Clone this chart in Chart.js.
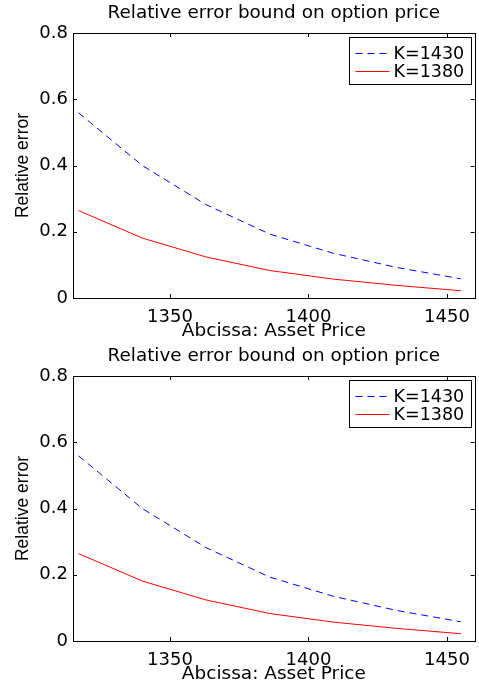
<!DOCTYPE html>
<html lang="en">

<head>
    <meta charset="UTF-8">
    <meta name="viewport" content="width=device-width, initial-scale=1.0">
    <script src="https://cdnjs.cloudflare.com/ajax/libs/Chart.js/4.4.1/chart.umd.js"></script>
    <title>Relative error bound on option price</title>
    <style>
        body { margin: 0; background: #fff; }
        .panel { width: 479px; height: 343px; }
    </style>
</head>

<body>
    <div class="panel"><canvas id="chart1" width="479" height="343"></canvas></div>
    <div class="panel"><canvas id="chart2" width="479" height="343"></canvas></div>

    <script>
        // data (both panels show the same curves)
        const assetPrice = [1317, 1340, 1363, 1386, 1409, 1432, 1455];
        const errK1430 = [0.559, 0.400, 0.282, 0.193, 0.135, 0.092, 0.058];
        const errK1380 = [0.264, 0.181, 0.124, 0.083, 0.057, 0.038, 0.022];
        const seriesLabels = ['K=1430', 'K=1380'];
        const xTicks = [1350, 1400, 1450];
        const yTicks = [0, 0.2, 0.4, 0.6, 0.8];

        const FONT = 'DejaVu Sans';
        const TITLE = 'Relative error bound on option price';

        // matlab style box with inward ticks, title centred over the axes
        const boxPlugin = {
            id: 'box',
            afterDraw(chart) {
                const ctx = chart.ctx;
                const a = chart.chartArea;
                const xs = chart.scales.x, ys = chart.scales.y;
                const len = 4;
                ctx.save();
                ctx.strokeStyle = '#000';
                ctx.lineWidth = 1;
                ctx.beginPath();
                xs.ticks.forEach(t => {
                    const px = Math.round(xs.getPixelForValue(t.value)) + 0.5;
                    ctx.moveTo(px, a.bottom); ctx.lineTo(px, a.bottom - len);
                    ctx.moveTo(px, a.top); ctx.lineTo(px, a.top + len);
                });
                ys.ticks.forEach(t => {
                    const py = Math.round(ys.getPixelForValue(t.value)) + 0.5;
                    ctx.moveTo(a.left, py); ctx.lineTo(a.left + len, py);
                    ctx.moveTo(a.right, py); ctx.lineTo(a.right - len, py);
                });
                ctx.stroke();
                ctx.strokeRect(Math.round(a.left) + 0.5, Math.round(a.top) + 0.5,
                    Math.round(a.right - a.left), Math.round(a.bottom - a.top));

                ctx.fillStyle = '#000';
                ctx.font = '18.4px "' + FONT + '"';
                ctx.textAlign = 'center';
                ctx.textBaseline = 'middle';
                ctx.fillText(TITLE, (a.left + a.right) / 2, 13);
                ctx.restore();
            }
        };

        // legend box in the top right corner of the axes
        const legendBoxPlugin = {
            id: 'legendBox',
            afterDraw(chart) {
                const ctx = chart.ctx;
                const a = chart.chartArea;
                const w = 122, h = 47;
                const x0 = Math.round(a.right - 4 - w) + 0.5;
                const y0 = Math.round(a.top + 4) + 0.5;
                ctx.save();
                ctx.fillStyle = '#fff';
                ctx.fillRect(x0, y0, w, h);
                ctx.strokeStyle = '#000';
                ctx.lineWidth = 1;
                ctx.strokeRect(x0, y0, w, h);
                ctx.font = '17.5px "' + FONT + '"';
                ctx.textBaseline = 'middle';
                chart.data.datasets.forEach((ds, i) => {
                    const cy = Math.round(y0 + 15 + i * 18.5) + 0.5;
                    ctx.strokeStyle = ds.borderColor;
                    ctx.setLineDash(ds.borderDash || []);
                    ctx.beginPath();
                    ctx.moveTo(x0 + 6, cy);
                    ctx.lineTo(x0 + 40, cy);
                    ctx.stroke();
                    ctx.setLineDash([]);
                    ctx.fillStyle = '#000';
                    ctx.fillText(ds.label, x0 + 44, cy + 1);
                });
                ctx.restore();
            }
        };

        function makeChart(id) {
            return new Chart(document.getElementById(id), {
                type: 'line',
                data: {
                    labels: assetPrice,
                    datasets: [{
                        label: seriesLabels[0],
                        data: assetPrice.map((x, i) => ({ x: x, y: errK1430[i] })),
                        borderColor: 'rgb(0, 0, 255)',
                        borderDash: [7, 5],
                        borderWidth: 1,
                        pointRadius: 0,
                        tension: 0,
                        fill: false
                    }, {
                        label: seriesLabels[1],
                        data: assetPrice.map((x, i) => ({ x: x, y: errK1380[i] })),
                        borderColor: 'rgb(255, 0, 0)',
                        borderWidth: 1,
                        pointRadius: 0,
                        tension: 0,
                        fill: false
                    }]
                },
                options: {
                    responsive: false,
                    animation: false,
                    devicePixelRatio: 1,
                    layout: { padding: { left: 0, right: 2, top: 33, bottom: 1 } },
                    plugins: {
                        legend: { display: false },
                        tooltip: { enabled: false },
                        title: { display: false }
                    },
                    scales: {
                        x: {
                            type: 'linear',
                            min: 1315,
                            max: 1460,
                            afterBuildTicks: s => { s.ticks = xTicks.map(v => ({ value: v })); },
                            afterFit: s => { s.height = 44; },
                            grid: { display: false, drawTicks: false },
                            border: { display: false },
                            ticks: {
                                color: '#000',
                                padding: 9,
                                maxRotation: 0,
                                font: { family: FONT, size: 18 },
                                callback: v => String(v)
                            },
                            title: {
                                display: true,
                                text: 'Abcissa: Asset Price',
                                color: '#000',
                                font: { family: FONT, size: 18.5 },
                                padding: { top: 0, bottom: 0 }
                            }
                        },
                        y: {
                            min: 0,
                            max: 0.8,
                            afterBuildTicks: s => { s.ticks = yTicks.map(v => ({ value: v })); },
                            afterFit: s => { s.width = 73; },
                            grid: { display: false, drawTicks: false },
                            border: { display: false },
                            ticks: {
                                color: '#000',
                                padding: 5,
                                font: { family: FONT, size: 18 },
                                callback: v => String(v)
                            },
                            title: {
                                display: true,
                                text: 'Relative error',
                                color: '#000',
                                font: { family: 'Liberation Sans', size: 17.5 },
                                padding: { top: 13, bottom: 0 }
                            }
                        }
                    }
                },
                plugins: [boxPlugin, legendBoxPlugin]
            });
        }

        makeChart('chart1');
        makeChart('chart2');
    </script>
</body>

</html>
